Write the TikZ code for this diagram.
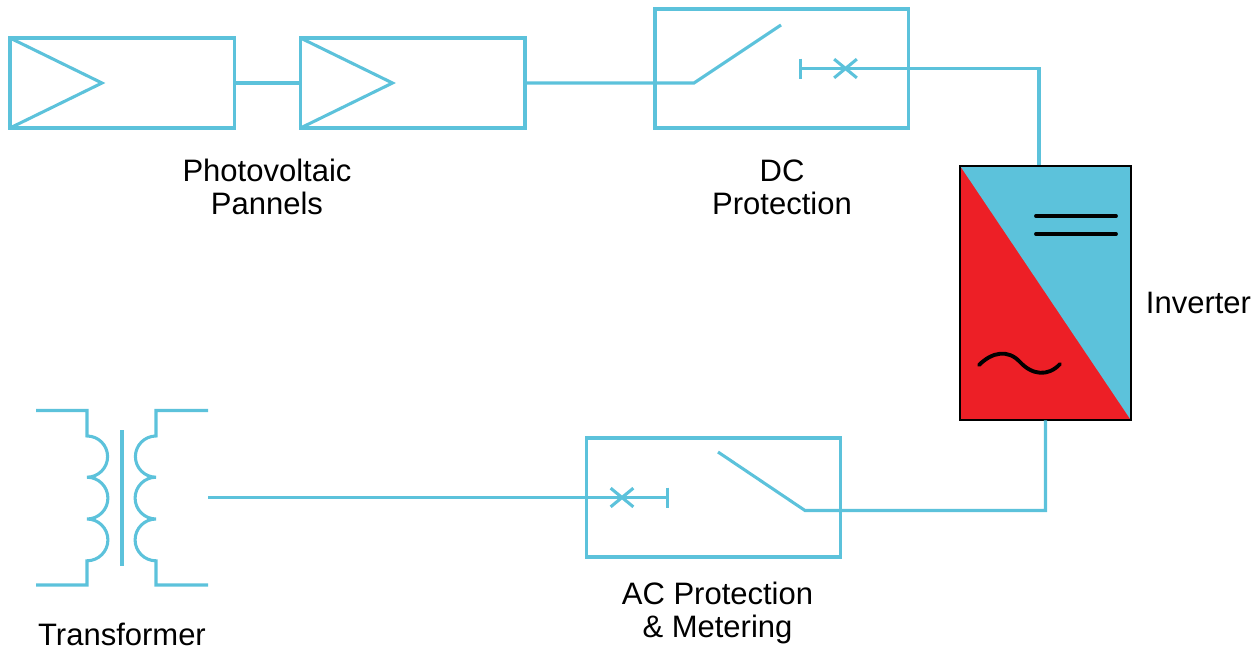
\documentclass[tikz,border=0pt]{standalone}
\usepackage{fontspec}
\usepackage{tikz}
\usepackage{xcolor}
\setmainfont{Liberation Sans}
\definecolor{wireblue}{rgb}{0.36,0.76,0.86}
\definecolor{invred}{rgb}{0.93,0.12,0.15}
\tikzset{every picture/.style={line width=0.75pt}}
\tikzset{
  wire/.style={draw=wireblue,line width=2.3pt,miter limit=3},
  symline/.style={draw=black,line width=2.9pt,line cap=round},
  pvbox/.style={wire,inner sep=0pt,outer sep=0pt,minimum width=224.5*0.75pt,minimum height=90*0.75pt},
  protbox/.style={wire,inner sep=0pt,outer sep=0pt,minimum width=253.5*0.75pt,minimum height=119*0.75pt},
  invbox/.style={draw=black,line width=1.8pt,fill=invred,inner sep=0pt,outer sep=0pt,minimum width=171*0.75pt,minimum height=254.5*0.75pt},
  caption/.style={align=center,inner sep=0pt,font=\fontsize{23.25}{24.75}\selectfont}
}

\begin{document}
\begin{tikzpicture}[x=0.75pt,y=0.75pt,yscale=-1,xscale=1]
\useasboundingbox (0,0) rectangle (1260,650);

%Shape: Rectangle
\draw (122.25,83) node (pvone) [pvbox] {};
%Shape: Rectangle
\draw (412.75,83) node (pvtwo) [pvbox] {};
%Shape: Rectangle
\draw (781.75,68.5) node (dcbox) [protbox] {};
%Shape: Rectangle
\draw (713.5,497.5) node (acbox) [protbox] {};
%Shape: Rectangle
\draw (1045.5,293) node (inverter) [invbox] {};

%Shape: Triangle
\coordinate (pvonetip) at (102,83);
\coordinate (pvtwotip) at (392.5,83);
\draw [wire] (pvone.north west) -- (pvonetip) -- (pvone.south west);
\draw [wire] (pvtwo.north west) -- (pvtwotip) -- (pvtwo.south west);

%Inverter
\fill [wireblue] (inverter.north west) -- (inverter.north east) -- (inverter.south east) -- cycle;
\draw [black,line width=1.8pt] (inverter.north west) rectangle (inverter.south east);
\draw [symline] (1036,216) -- (1116,216);
\draw [symline] (1036,234) -- (1116,234);
\draw [symline] (979,365) .. controls (992,352) and (1008,349) .. (1020,362) .. controls (1032,375) and (1048,377) .. (1060,364);

%Straight Lines
\coordinate (dcpivot) at (694,83);
\coordinate (dcblade) at (781,25);
\coordinate (dcbar) at (800.5,68.5);
\coordinate (dccross) at (845.5,68.5);
\coordinate (dcout) at (1039,165);
\draw [wire] (pvone.east) -- (pvtwo.west);
\draw [wire] (pvtwo.east) -- (dcpivot) -- (dcblade);
\draw [wire] (dcbar) -- (dcout |- dcbar) -- (dcout);
\draw [wire] ([yshift=-7.5pt]dcbar) -- ([yshift=7.5pt]dcbar);
\draw [wire] ([shift={(-8.5pt,-7pt)}]dccross) -- ([shift={(8.5pt,7pt)}]dccross);
\draw [wire] ([shift={(-8.5pt,7pt)}]dccross) -- ([shift={(8.5pt,-7pt)}]dccross);

%Straight Lines
\coordinate (acpivot) at (805,510.5);
\coordinate (acblade) at (718,452);
\coordinate (acbar) at (667.5,497.5);
\coordinate (accross) at (622,497.5);
\coordinate (trout) at (208,497.5);
\draw [wire] (inverter.south) -- (inverter.south |- acpivot) -- (acpivot) -- (acblade);
\draw [wire] (trout) -- (acbar);
\draw [wire] ([yshift=-7.5pt]acbar) -- ([yshift=7.5pt]acbar);
\draw [wire] ([shift={(-8.5pt,-7pt)}]accross) -- ([shift={(8.5pt,7pt)}]accross);
\draw [wire] ([shift={(-8.5pt,7pt)}]accross) -- ([shift={(8.5pt,-7pt)}]accross);

%Transformer
\draw [wire] (36,410.5) -- (87,410.5) -- (87,436)
  arc [start angle=-90,end angle=90,radius=20.6]
  arc [start angle=-90,end angle=90,radius=20.9]
  arc [start angle=-90,end angle=90,radius=20.9]
  -- (87,585) -- (36,585);
\draw [wire] (208,410.5) -- (156,410.5) -- (156,436)
  arc [start angle=270,end angle=90,radius=20.6]
  arc [start angle=270,end angle=90,radius=20.9]
  arc [start angle=270,end angle=90,radius=20.9]
  -- (156,585) -- (208,585);
\draw [wire] (122,430) -- (122,566);

% Text Node
\draw (267,186.5) node (pvlabel) [caption] {Photovoltaic\\Pannels};
% Text Node
\draw (782,187.5) node (dclabel) [caption] {DC\\Protection};
% Text Node
\draw (1198.5,302.5) node (invlabel) [caption] {Inverter};
% Text Node
\draw (717.5,613) node (aclabel) [caption] {AC Protection\\\& Metering};
% Text Node
\draw (122,634.5) node (trlabel) [caption] {Transformer};

\end{tikzpicture}
\end{document}
